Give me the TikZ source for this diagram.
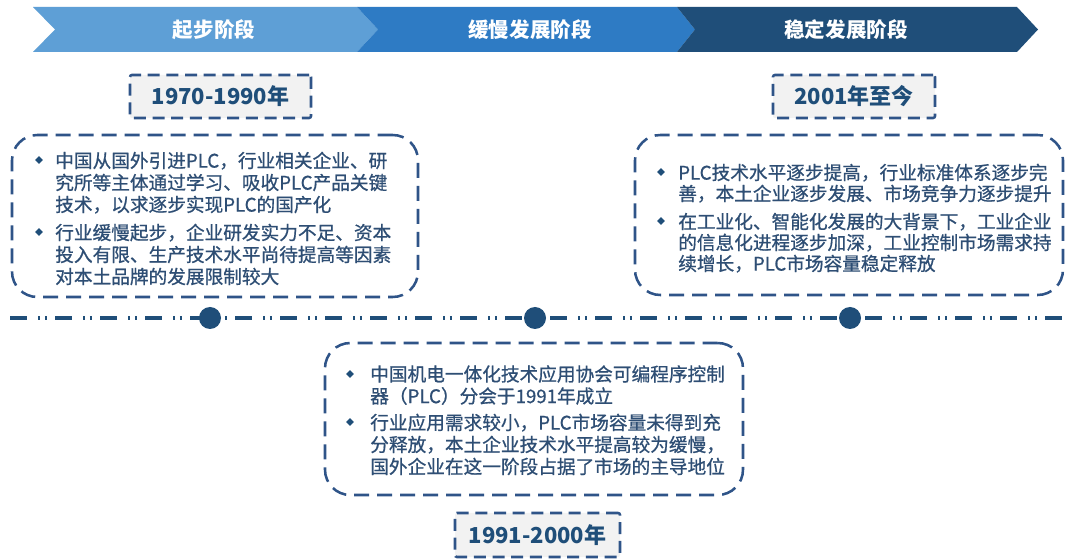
\documentclass[tikz,border=0pt]{standalone}
\usepackage{fontspec}
\setmainfont{Noto Sans CJK SC}
\newfontfamily\bodyfont{Noto Sans CJK SC}[FakeBold=0.8]
\usetikzlibrary{shapes.geometric}
\definecolor{c1}{HTML}{5E9FD6}
\definecolor{c2}{HTML}{2E7BC4}
\definecolor{c3}{HTML}{1F4E79}
\definecolor{navy}{HTML}{1F4E79}
\definecolor{txt}{HTML}{2E4E74}
\definecolor{dashc}{HTML}{2F5488}
\definecolor{yfill}{HTML}{F2F2F2}
\begin{document}
\begin{tikzpicture}[x=0.75pt,y=-0.75pt,
 chev/.style={fill=#1, draw=none},
 phase/.style={text=white, font=\fontsize{15.4}{18}\selectfont\bfseries, inner sep=0},
 yearbox/.style={draw=dashc, fill=yfill, line width=1.9pt, dash pattern=on 9pt off 5pt, rounded corners=1.5pt,
   text=navy, font=\fontsize{16.5}{20}\selectfont\bfseries, inner sep=0},
 bigbox/.style={draw=dashc, line width=1.9pt, dash pattern=on 11.25pt off 6pt, rounded corners=19pt, inner sep=0},
 body/.style={text=txt, font=\bodyfont\fontsize{14}{#1}\selectfont, align=left, inner sep=0, anchor=north west},
 bul/.style={diamond, fill=navy, inner sep=0, minimum size=6pt},
 tdot/.style={circle, fill=navy, inner sep=0, minimum size=16.5pt},
 tline/.style={draw=navy, line width=2.5pt, dash pattern=on 13pt off 8pt on 1.8pt off 3.4pt on 1.8pt off 5.75pt}
]
\useasboundingbox (0,0) rectangle (1068,559);
\fill[white] (0,0) rectangle (1068,559);

% banner
\fill[chev=c1] (33,7) -- (357,7) -- (378,29.5) -- (357,52) -- (33,52) -- (55,29.5) -- cycle;
\fill[chev=c2] (357,7) -- (677,7) -- (695,29.5) -- (677,52) -- (357,52) -- (378,29.5) -- cycle;
\fill[chev=c3] (677,7) -- (1017,7) -- (1038,29.5) -- (1017,52) -- (677,52) -- (695,29.5) -- cycle;
\node[phase] (p1) at (214,29.5) {起步阶段};
\node[phase] (p2) at (530,29.5) {缓慢发展阶段};
\node[phase] (p3) at (846,29.5) {稳定发展阶段};

% year boxes
\node[yearbox, minimum width=135.75pt, minimum height=32.25pt] (y1) at (220.5,96.5) {1970-1990年};
\node[yearbox, minimum width=121.5pt, minimum height=32.25pt] (y3) at (854,96.5) {2001年至今};
\node[yearbox, minimum width=123.75pt, minimum height=33pt] (y2) at (537.5,535) {1991-2000年};

% big boxes
\node[bigbox, minimum width=304.5pt, minimum height=121.5pt] (b1) at (215,216) {};
\node[bigbox, minimum width=321pt, minimum height=120pt] (b3) at (849,215) {};
\node[bigbox, minimum width=313.5pt, minimum height=114pt] (b2) at (534,419) {};

% timeline
\coordinate (tl) at (10,318);
\coordinate (tr) at (1068,318);
\draw[tline] (tl) -- (tr);
\node[tdot] (d1) at (210,318) {};
\node[tdot] (d2) at (535,318) {};
\node[tdot] (d3) at (850,318) {};

% left texts
\node[bul] (lb1) at (39,160) {};
\node[body=16.5pt] (lt1) at (55,151.5) {中国从国外引进PLC，行业相关企业、研\\究所等主体通过学习、吸收PLC产品关键\\技术，以求逐步实现PLC的国产化};
\node[bul] (lb2) at (39,232) {};
\node[body=16.5pt] (lt2) at (55,223.5) {行业缓慢起步，企业研发实力不足、资本\\投入有限、生产技术水平尚待提高等因素\\对本土品牌的发展限制较大};

% middle texts
\node[bul] (mb1) at (350,374) {};
\node[body=16.5pt] (mt1) at (370,365) {中国机电一体化技术应用协会可编程序控制\\器（PLC）分会于1991年成立};
\node[bul] (mb2) at (350,422) {};
\node[body=16.5pt] (mt2) at (370,413.5) {行业应用需求较小，PLC市场容量未得到充\\分释放，本土企业技术水平提高较为缓慢，\\国外企业在这一阶段占据了市场的主导地位};

% right texts
\node[bul] (rb1) at (661,172) {};
\node[body=15.75pt] (rt1) at (678,163.5) {PLC技术水平逐步提高，行业标准体系逐步完\\善，本土企业逐步发展、市场竞争力逐步提升};
\node[bul] (rb2) at (661,221) {};
\node[body=15.75pt] (rt2) at (678,212.5) {在工业化、智能化发展的大背景下，工业企业\\的信息化进程逐步加深，工业控制市场需求持\\续增长，PLC市场容量稳定释放};
\end{tikzpicture}
\end{document}
